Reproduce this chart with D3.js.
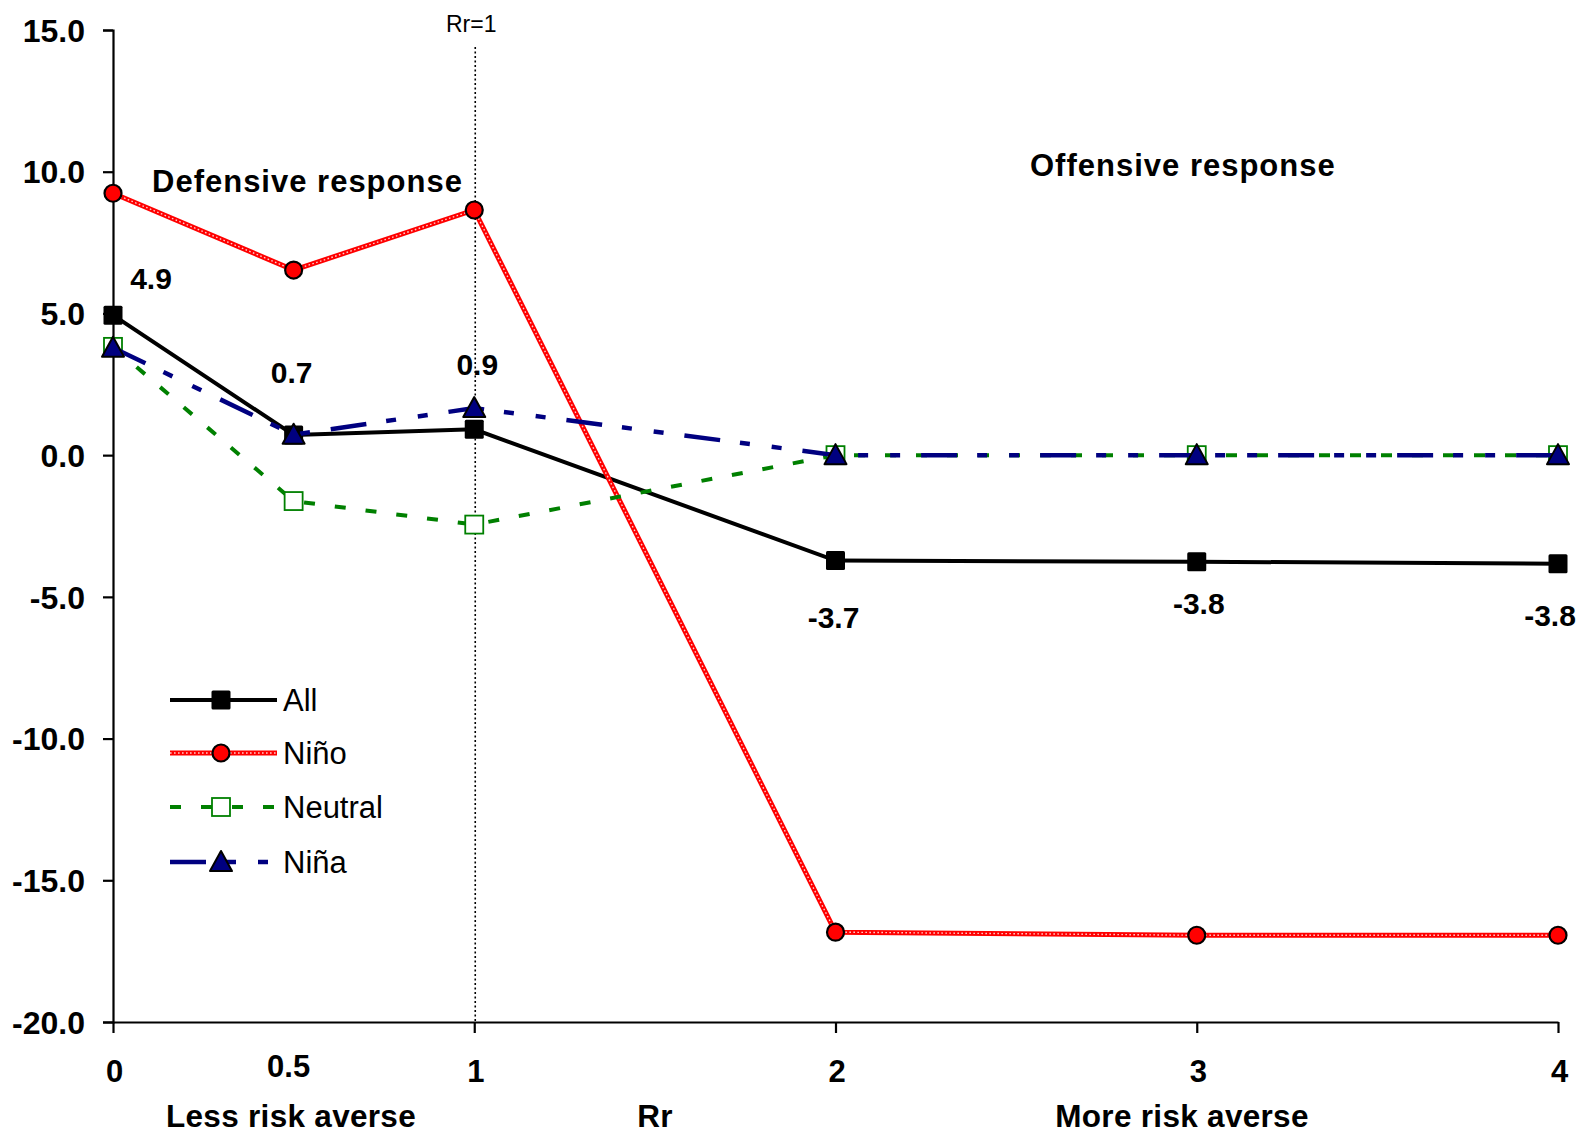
<!DOCTYPE html>
<html><head><meta charset="utf-8">
<script src="https://cdn.jsdelivr.net/npm/d3@7"></script>
<style>
body{margin:0;background:#fff}
svg{display:block}
text{font-family:"Liberation Sans",Arial,Helvetica,sans-serif}
</style>
</head><body>
<svg id="c" width="1583" height="1135"></svg>
<script>
// ---- data ----
const rr = [0, 0.5, 1, 2, 3, 4];
const seriesNames = ["All", "Niño", "Neutral", "Niña"];
const allValues = [4.94, 0.71, 0.91, -3.72, -3.76, -3.83];
const ninoValues = [9.24, 6.53, 8.65, -16.83, -16.94, -16.94];
const neutralValues = [3.82, -1.62, -2.45, 0.0, 0.0, 0.0];
const ninaValues = [3.79, 0.72, 1.66, 0.0, 0.0, 0.0];
const allLabels = ["4.9", "0.7", "0.9", "-3.7", "-3.8", "-3.8"];
const yTicks = [15, 10, 5, 0, -5, -10, -15, -20];
const xTicks = [0, 1, 2, 3, 4];
const xExtraTick = 0.5;
const regionLabels = ["Defensive response", "Offensive response"];
const axisLabels = ["Less risk averse", "Rr", "More risk averse"];
const refLineValue = 1;
const refLineLabel = "Rr=1";

// ---- layout ----
const svg = d3.select("#c");
const x = d3.scaleLinear().domain([0, 4]).range([113, 1558]);
const y = d3.scaleLinear().domain([-20, 15]).range([1022, 30]);

// reference dotted line
svg.append("line")
  .attr("x1", x(refLineValue) + 1).attr("x2", x(refLineValue) + 1)
  .attr("y1", 47).attr("y2", y(-20))
  .attr("stroke", "#000").attr("stroke-width", 1.6).attr("stroke-dasharray", "2,2.5");
svg.append("text").attr("x", x(refLineValue) - 3).attr("y", 32)
  .attr("text-anchor", "middle").attr("font-size", 23).text(refLineLabel);

// axes
const yAxis = d3.axisLeft(y).tickValues(yTicks).tickFormat(d => d.toFixed(1)).tickSize(10).tickPadding(18);
const gy = svg.append("g").attr("transform", `translate(${x(0)},0)`).call(yAxis);
gy.select(".domain").attr("stroke-width", 2.2);
gy.selectAll(".tick line").attr("stroke-width", 2.2);
gy.selectAll("text").attr("font-size", 32).attr("font-weight", "bold")
  .attr("font-family", '"Liberation Sans",Arial,sans-serif').attr("dy", "0.35em");

const xAxis = d3.axisBottom(x).tickValues(xTicks).tickFormat(d3.format("d")).tickSize(11).tickSizeOuter(0);
const gx = svg.append("g").attr("transform", `translate(0,${y(-20)})`).call(xAxis);
gx.select(".domain").attr("stroke-width", 2.2);
gx.selectAll(".tick line").attr("stroke-width", 2.2);
gx.selectAll("text").attr("font-size", 31).attr("font-weight", "bold")
  .attr("font-family", '"Liberation Sans",Arial,sans-serif')
  .attr("y", 60).attr("dy", 0).attr("dx", 1);
svg.append("text").attr("x", x(xExtraTick) - 5).attr("y", y(-20) + 55)
  .attr("text-anchor", "middle").attr("font-size", 31).attr("font-weight", "bold")
  .text(String(xExtraTick));

// axis labels
const axisLabelX = [291, 655, 1182];
axisLabels.forEach((t, i) => {
  svg.append("text").attr("x", axisLabelX[i]).attr("y", 1127)
    .attr("text-anchor", "middle").attr("font-size", 31.5).attr("font-weight", "bold")
    .attr("letter-spacing", 0.3).text(t);
});

// region labels
svg.append("text").attr("x", 152).attr("y", 192).attr("font-size", 31)
  .attr("font-weight", "bold").attr("letter-spacing", 1).text(regionLabels[0]);
svg.append("text").attr("x", 1030).attr("y", 176).attr("font-size", 31)
  .attr("font-weight", "bold").attr("letter-spacing", 1).text(regionLabels[1]);

// ---- series ----
const line = d3.line().x(d => x(d[0])).y(d => y(d[1]));
const zip = vals => rr.map((r, i) => [r, vals[i]]);

const styles = {
  "All": {color: "#000", width: 4, dash: null},
  "Niño": {color: "#ff0000", width: 5, dash: null, overlay: true},
  "Neutral": {color: "#008000", width: 4, dash: "11,20"},
  "Niña": {color: "#000080", width: 4.5, dash: "36,20,10,22,10,21"}
};

function addOverlay(sel) {
  sel.attr("fill", "none").attr("stroke", "#fff").attr("stroke-opacity", 0.8)
    .attr("stroke-width", 1.4).attr("stroke-dasharray", "1.6,2.4");
}

function drawLine(g, pts, st) {
  const p = g.append("path").attr("d", line(pts)).attr("fill", "none")
    .attr("stroke", st.color).attr("stroke-width", st.width);
  if (st.dash) p.attr("stroke-dasharray", st.dash);
  if (st.overlay) addOverlay(g.append("path").attr("d", line(pts)));
}

function drawMarker(g, name, cx, cy) {
  if (name === "All") {
    g.append("rect").attr("x", cx - 9.5).attr("y", cy - 9.5).attr("width", 19).attr("height", 19)
      .attr("fill", "#000").attr("rx", 1.5);
  } else if (name === "Niño") {
    g.append("ellipse").attr("cx", cx).attr("cy", cy).attr("rx", 8.5).attr("ry", 8.5)
      .attr("fill", "#ff0000").attr("stroke", "#000").attr("stroke-width", 2.2);
  } else if (name === "Neutral") {
    g.append("rect").attr("x", cx - 9).attr("y", cy - 9).attr("width", 18).attr("height", 18)
      .attr("fill", "#fff").attr("stroke", "#008000").attr("stroke-width", 1.8);
  } else {
    g.append("path").attr("d", `M${cx},${cy - 11}L${cx + 11},${cy + 9}L${cx - 11},${cy + 9}Z`)
      .attr("fill", "#000080").attr("stroke", "#000").attr("stroke-width", 2).attr("stroke-linejoin", "round");
  }
}

const seriesValues = [allValues, ninoValues, neutralValues, ninaValues];
const plot = svg.append("g");
seriesNames.forEach((name, si) => {
  const g = plot.append("g");
  const pts = zip(seriesValues[si]);
  drawLine(g, pts, styles[name]);
  pts.forEach(p => drawMarker(g, name, x(p[0]), y(p[1])));
});

// data labels for "All"
const labelOffsets = [[38, -26], [-2, -52], [3, -54], [-2, 67], [2, 52], [-8, 62]];
allLabels.forEach((t, i) => {
  svg.append("text").attr("x", x(rr[i]) + labelOffsets[i][0]).attr("y", y(allValues[i]) + labelOffsets[i][1])
    .attr("text-anchor", "middle").attr("font-size", 30).attr("font-weight", "bold").text(t);
});

// ---- legend ----
const legendY = [700, 753, 807, 862];
const leg = svg.append("g");
seriesNames.forEach((name, i) => {
  const g = leg.append("g");
  const ly = legendY[i];
  const st = styles[name];
  const p = g.append("line").attr("x1", 170).attr("x2", 277).attr("y1", ly).attr("y2", ly)
    .attr("stroke", st.color).attr("stroke-width", st.width);
  if (st.dash) p.attr("stroke-dasharray", st.dash);
  if (st.overlay) addOverlay(g.append("line").attr("x1", 170).attr("x2", 277).attr("y1", ly).attr("y2", ly));
  drawMarker(g, name, 221, ly);
  g.append("text").attr("x", 283).attr("y", ly + 11).attr("font-size", 31).text(name);
});
</script>
</body></html>
